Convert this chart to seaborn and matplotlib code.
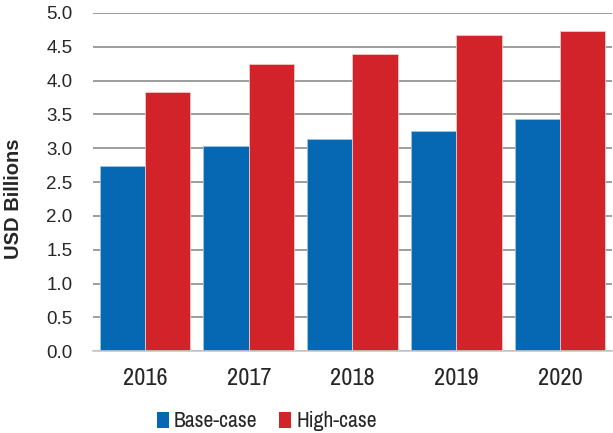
import matplotlib
matplotlib.use("Agg")
import matplotlib.pyplot as plt
import seaborn as sns
import pandas as pd
from matplotlib.patches import Patch

years = ["2016", "2017", "2018", "2019", "2020"]
base_case = [2.74, 3.04, 3.13, 3.26, 3.43]
high_case = [3.83, 4.25, 4.40, 4.67, 4.74]
series = ["Base-case", "High-case"]
colors = ["#0668B3", "#D2232A"]

df = pd.DataFrame({
    "Year": years * 2,
    "Value": base_case + high_case,
    "Case": [series[0]] * len(years) + [series[1]] * len(years),
})

sns.set_theme(style="white")
plt.rcParams['font.family'] = ['Liberation Sans', 'DejaVu Sans']
narrow = ['Archivo Narrow', 'Liberation Sans', 'DejaVu Sans']

fig = plt.figure(figsize=(6.13, 4.33), dpi=100)
ax = fig.add_axes([0.152, 0.189, 0.846, 0.781])

sns.barplot(data=df, x="Year", y="Value", hue="Case", palette=colors,
            width=0.875, ax=ax, legend=False, edgecolor="#f0c8c8", linewidth=0.6,
            saturation=1)
for i, p in enumerate(ax.patches):
    if i < len(years):
        p.set_edgecolor("#9cc4e4")

ax.set_ylim(0, 5.0)
yt = [0, 0.5, 1.0, 1.5, 2.0, 2.5, 3.0, 3.5, 4.0, 4.5, 5.0]
ax.set_yticks(yt)
ax.set_yticklabels([f"{v:.1f}" for v in yt], fontsize=13.5)
ax.set_xlim(-0.5, 4.5)
ax.tick_params(axis='x', pad=12, length=0)
for t in ax.get_xticklabels():
    t.set_fontfamily(narrow)
    t.set_fontsize(17.5)
ax.tick_params(axis='y', pad=15, length=0)
ax.yaxis.grid(True, color="#8c8c8c", linewidth=1.2)
ax.set_axisbelow(True)
for s in ["top", "right", "left"]:
    ax.spines[s].set_visible(False)
ax.spines["bottom"].set_color("#c8c8c8")
ax.spines["bottom"].set_linewidth(1.2)
ax.set_xlabel("")
ax.set_ylabel("USD Billions", fontsize=14.5, fontweight="bold")
ax.yaxis.set_label_coords(-0.135, 0.45)

handles = [Patch(facecolor=c, edgecolor="none") for c in colors]
fig.legend(handles, series, loc="center", bbox_to_anchor=(0.435, 0.027), ncol=2,
           frameon=False, prop={'family': narrow, 'size': 15.5},
           handlelength=0.55, handleheight=0.75,
           handletextpad=0.25, columnspacing=1.0)

fig.savefig("out.png", dpi=100)
